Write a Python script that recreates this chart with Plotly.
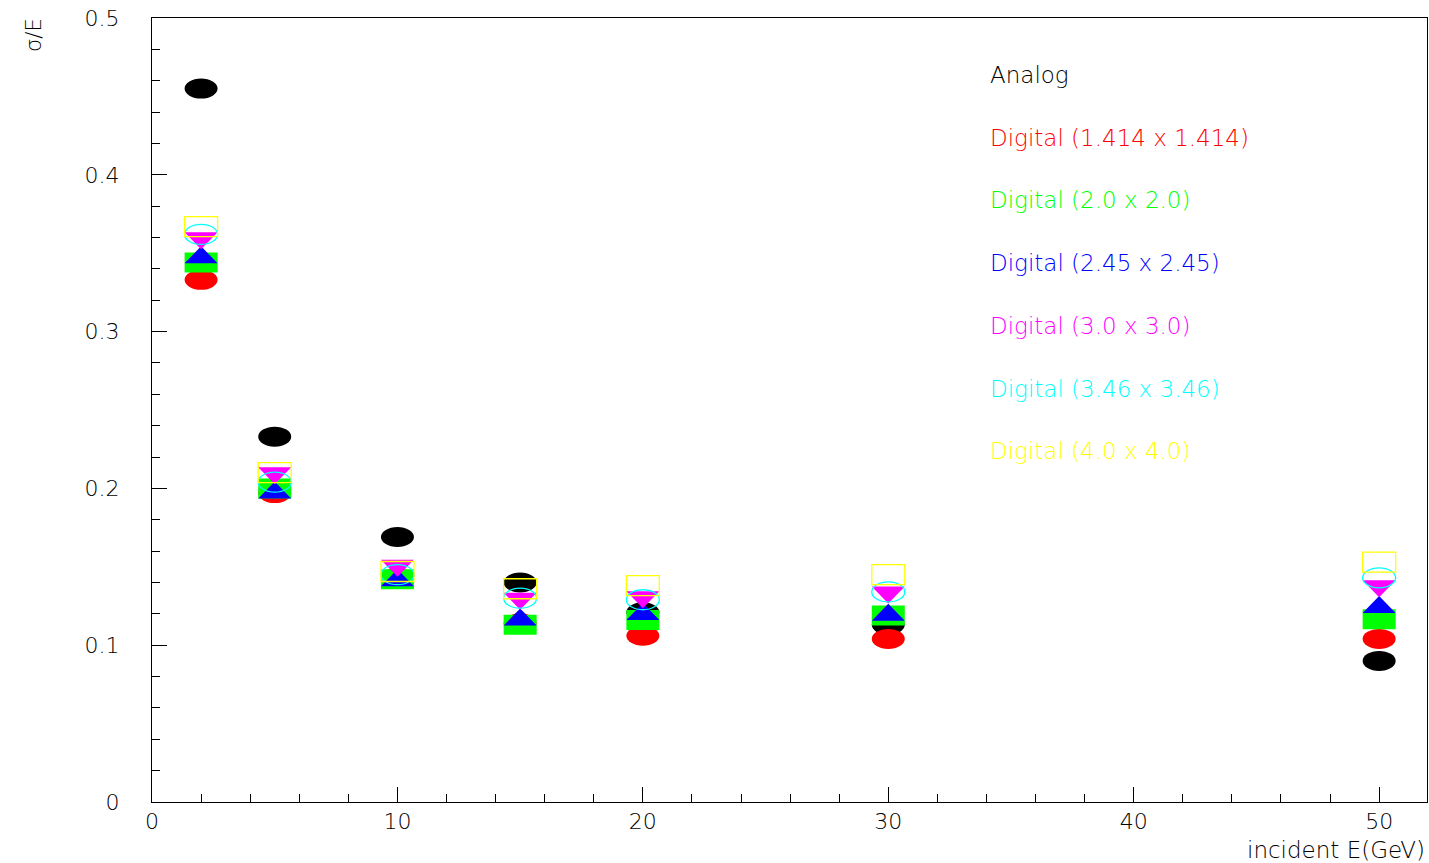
import plotly.graph_objects as go

# Incident energies (GeV)
energies = [2, 5, 10, 15, 20, 30, 50]

# Relative energy resolution sigma/E for each readout
analog = [0.455, 0.233, 0.169, 0.140, 0.121, 0.113, 0.090]
dig_1414 = [0.333, 0.197, 0.143, 0.114, 0.106, 0.104, 0.104]
dig_20 = [0.344, 0.200, 0.142, 0.113, 0.116, 0.119, 0.1165]
dig_245 = [0.349, 0.199, 0.143, 0.118, 0.1215, 0.121, 0.126]
dig_30 = [0.358, 0.208, 0.149, 0.128, 0.129, 0.132, 0.136]
dig_346 = [0.362, 0.204, 0.145, 0.130, 0.129, 0.134, 0.143]
dig_40 = [0.367, 0.210, 0.147, 0.136, 0.138, 0.145, 0.153]

labels = [
    "Analog",
    "Digital (1.414 x 1.414)",
    "Digital (2.0 x 2.0)",
    "Digital (2.45 x 2.45)",
    "Digital (3.0 x 3.0)",
    "Digital (3.46 x 3.46)",
    "Digital (4.0 x 4.0)",
]
series = [analog, dig_1414, dig_20, dig_245, dig_30, dig_346, dig_40]
colors = ["#000000", "#ff0000", "#00ff00", "#0000ff", "#ff00ff", "#00ffff", "#ffff00"]
# marker kinds: filled ellipse, filled box, up/down triangle, open ellipse, open box
kinds = ["ellipse", "ellipse", "box", "tri_up", "tri_down", "ellipse_open", "box_open"]

HW, HH, TH = 16.5, 10, 8.5  # half width / half height of markers in pixels
FONT = "DejaVu Sans"
WEIGHT = 200

fig = go.Figure()
shapes = []
for name, vals, col, kind in zip(labels, series, colors, kinds):
    # hover targets for each series
    fig.add_trace(go.Scatter(
        x=energies, y=vals, mode="markers", name=name,
        marker=dict(size=20, color=col, opacity=0), showlegend=False,
        hovertemplate=name + "<br>E=%{x} GeV<br>σ/E=%{y:.3f}<extra></extra>",
    ))
    for e, v in zip(energies, vals):
        base = dict(xref="x", yref="y", xsizemode="pixel", ysizemode="pixel",
                    xanchor=e, yanchor=v, layer="above")
        if kind in ("ellipse", "box"):
            shapes.append(dict(base, type="circle" if kind == "ellipse" else "rect",
                               x0=-HW, x1=HW, y0=-HH, y1=HH,
                               fillcolor=col, line=dict(width=0)))
        elif kind in ("ellipse_open", "box_open"):
            shapes.append(dict(base, type="circle" if kind == "ellipse_open" else "rect",
                               x0=-HW, x1=HW, y0=-HH, y1=HH,
                               fillcolor="rgba(0,0,0,0)", line=dict(color=col, width=1.3)))
        elif kind == "tri_up":
            shapes.append(dict(base, type="path",
                               path=f"M {-HW} {-TH} L {HW} {-TH} L 0 {TH} Z",
                               fillcolor=col, line=dict(width=0)))
        else:
            shapes.append(dict(base, type="path",
                               path=f"M {-HW} {TH} L {HW} {TH} L 0 {-TH} Z",
                               fillcolor=col, line=dict(width=0)))

# Series labels in the upper right
annotations = []
for i, (name, col) in enumerate(zip(labels, colors)):
    annotations.append(dict(
        text=name, xref="paper", yref="paper", x=0.6557, y=0.9273 - i * 0.08,
        xanchor="left", yanchor="middle", showarrow=False,
        font=dict(family=FONT, size=23, color=col, weight=WEIGHT),
    ))

# Axis titles
annotations.append(dict(
    text="σ/E", xref="paper", yref="paper", x=-0.092, y=0.978,
    textangle=-90, xanchor="center", yanchor="middle", showarrow=False,
    font=dict(family=FONT, size=21, color="black", weight=WEIGHT),
))
annotations.append(dict(
    text="incident E(GeV)", xref="paper", yref="paper", x=1.0, y=-0.061,
    xanchor="right", yanchor="middle", showarrow=False,
    font=dict(family=FONT, size=23, color="black", weight=WEIGHT),
))

axis_common = dict(
    showgrid=False, zeroline=False, showline=True, linecolor="black",
    linewidth=1, mirror=True, ticks="inside", tickcolor="black", tickwidth=1,
    tickfont=dict(family=FONT, size=22, color="black", weight=WEIGHT),
)

fig.update_layout(
    width=1429, height=863,
    margin=dict(l=152, r=2, t=18, b=61),
    paper_bgcolor="white", plot_bgcolor="white",
    shapes=shapes, annotations=annotations, showlegend=False,
    xaxis=dict(axis_common, range=[0, 51.95], dtick=10, tick0=0, ticklen=15,
               ticklabelstandoff=0,
               minor=dict(ticks="inside", ticklen=8, dtick=2, tickcolor="black",
                          showgrid=False)),
    yaxis=dict(axis_common, range=[0, 0.5], dtick=0.1, tick0=0, ticklen=15,
               ticklabelstandoff=27,
               minor=dict(ticks="inside", ticklen=8, dtick=0.02, tickcolor="black",
                          showgrid=False)),
)

fig.write_html("out.html")
